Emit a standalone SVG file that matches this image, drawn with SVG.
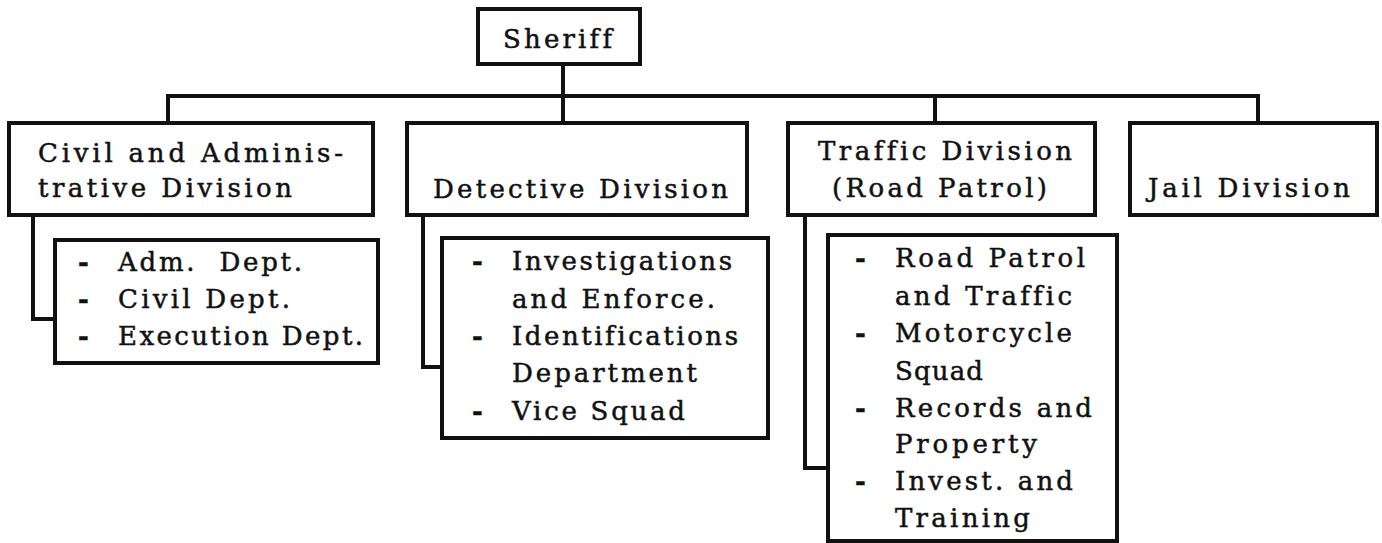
<svg xmlns="http://www.w3.org/2000/svg" width="1382" height="543" viewBox="0 0 1382 543">
<style>
.box{fill:#fff;stroke:#111;stroke-width:4;stroke-linejoin:miter}
.ln{fill:none;stroke:#111;stroke-width:4;stroke-linejoin:miter;stroke-linecap:square}
text{font-family:"DejaVu Serif","Liberation Serif",serif;font-size:26px;fill:#111;stroke:#111;stroke-width:0.5;font-variant-ligatures:none}
.d{font-weight:bold}
</style>
<rect width="1382" height="543" fill="#fff"/>
<g id="connectors">
<path class="ln" d="M168,96 H1258"/>
<path class="ln" d="M563,64 V123"/>
<path class="ln" d="M168,96 V123"/>
<path class="ln" d="M935,96 V123"/>
<path class="ln" d="M1258,96 V123"/>
<path class="ln" d="M33,215 V319 H55"/>
<path class="ln" d="M423,215 V367 H442"/>
<path class="ln" d="M805,215 V468 H828"/>
</g>
<g id="sheriff">
<rect class="box" x="478" y="9" width="162" height="55"/>
<text x="503" y="48" textLength="109" lengthAdjust="spacing">Sheriff</text>
</g>
<g id="civil">
<rect class="box" x="9" y="123" width="364" height="92"/>
<text x="38" y="162" textLength="305" lengthAdjust="spacing">Civil and Adminis-</text>
<text x="38" y="197" textLength="254" lengthAdjust="spacing">trative Division</text>
</g>
<g id="civil-sub">
<rect class="box" x="55" y="240" width="323" height="123"/>
<text class="d" x="78" y="271">-</text>
<text x="118" y="271" textLength="184" lengthAdjust="spacing" xml:space="preserve">Adm.  Dept.</text>
<text class="d" x="78" y="308">-</text>
<text x="118" y="308" textLength="172" lengthAdjust="spacing">Civil Dept.</text>
<text class="d" x="78" y="345">-</text>
<text x="118" y="345" textLength="245" lengthAdjust="spacing">Execution Dept.</text>
</g>
<g id="detective">
<rect class="box" x="407" y="123" width="340" height="92"/>
<text x="433" y="198" textLength="295" lengthAdjust="spacing">Detective Division</text>
</g>
<g id="detective-sub">
<rect class="box" x="442" y="238" width="326" height="200"/>
<text class="d" x="472" y="270">-</text>
<text x="512" y="270" textLength="220" lengthAdjust="spacing">Investigations</text>
<text x="512" y="308" textLength="203" lengthAdjust="spacing">and Enforce.</text>
<text class="d" x="472" y="345">-</text>
<text x="512" y="345" textLength="226" lengthAdjust="spacing">Identifications</text>
<text x="512" y="382" textLength="185" lengthAdjust="spacing">Department</text>
<text class="d" x="472" y="420">-</text>
<text x="512" y="420" textLength="173" lengthAdjust="spacing">Vice Squad</text>
</g>
<g id="traffic">
<rect class="box" x="788" y="123" width="307" height="92"/>
<text x="818" y="160" textLength="254" lengthAdjust="spacing">Traffic Division</text>
<text x="832" y="197" textLength="215" lengthAdjust="spacing">(Road Patrol)</text>
</g>
<g id="traffic-sub">
<rect class="box" x="828" y="235" width="289" height="306"/>
<text class="d" x="855" y="267">-</text>
<text x="895" y="267" textLength="190" lengthAdjust="spacing">Road Patrol</text>
<text x="895" y="305" textLength="177" lengthAdjust="spacing">and Traffic</text>
<text class="d" x="855" y="342">-</text>
<text x="895" y="342" textLength="177" lengthAdjust="spacing">Motorcycle</text>
<text x="895" y="380" textLength="88" lengthAdjust="spacing">Squad</text>
<text class="d" x="855" y="417">-</text>
<text x="895" y="417" textLength="197" lengthAdjust="spacing">Records and</text>
<text x="895" y="453" textLength="142" lengthAdjust="spacing">Property</text>
<text class="d" x="855" y="490">-</text>
<text x="895" y="490" textLength="178" lengthAdjust="spacing">Invest. and</text>
<text x="895" y="527" textLength="135" lengthAdjust="spacing">Training</text>
</g>
<g id="jail">
<rect class="box" x="1130" y="123" width="247" height="92"/>
<text x="1148" y="197" textLength="202" lengthAdjust="spacing">Jail Division</text>
</g>
</svg>
